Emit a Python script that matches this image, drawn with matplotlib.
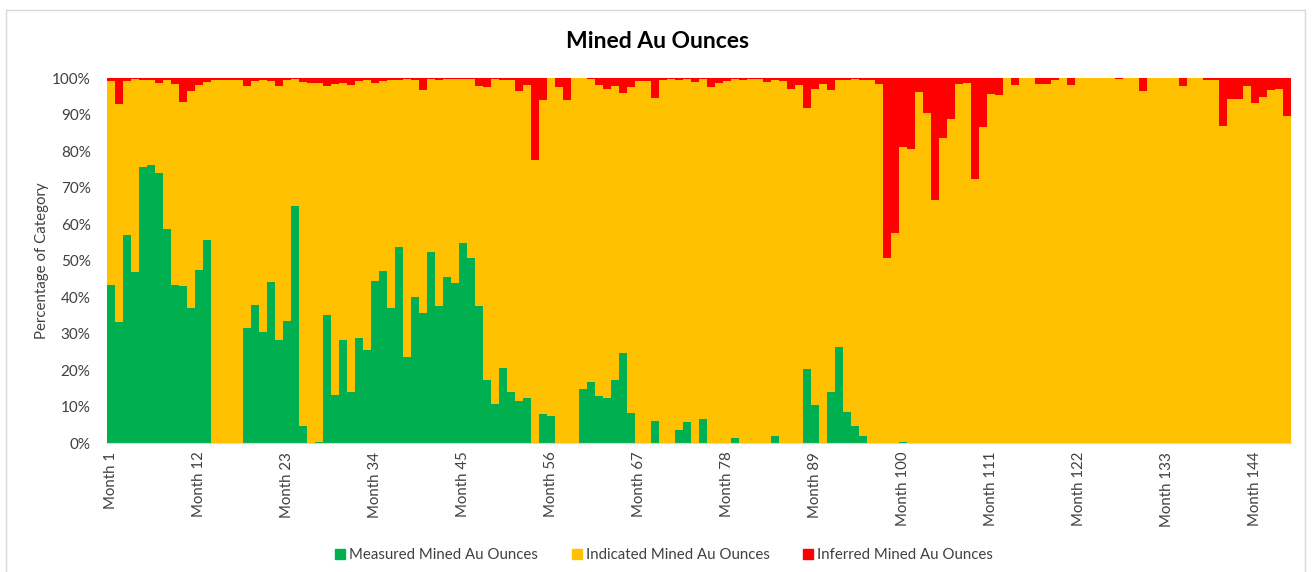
import numpy as np
import matplotlib
matplotlib.use("Agg")
import matplotlib.pyplot as plt
from matplotlib.lines import Line2D

plt.rcParams['font.family'] = ['Lato', 'DejaVu Sans']

months = [f"Month {i}" for i in range(1, 149)]

measured = [
    43.4, 33.2, 57.0, 46.9, 75.6, 76.2, 74.0, 58.8, 43.5, 43.1,
    37.1, 47.4, 55.6, 0, 0, 0, 0, 31.6, 37.8, 30.6,
    44.3, 28.3, 33.5, 65.1, 4.8, 0, 0.3, 35.1, 13.3, 28.2,
    14.0, 28.8, 25.6, 44.4, 47.2, 37.2, 53.9, 23.6, 40.2, 35.8,
    52.4, 37.5, 45.6, 43.8, 55.0, 50.8, 37.7, 17.3, 10.9, 20.6,
    14.1, 11.6, 12.5, 0, 8.0, 7.4, 0, 0, 0, 14.8,
    16.7, 13.0, 12.5, 17.4, 24.8, 8.3, 0, 0, 6.2, 0,
    0, 3.7, 5.7, 0, 6.6, 0, 0, 0, 1.5, 0,
    0, 0, 0, 2.0, 0, 0, 0, 20.3, 10.4, 0,
    14.1, 26.3, 8.6, 4.8, 2.0, 0, 0, 0, 0, 0.3,
    0, 0, 0, 0, 0, 0, 0, 0, 0, 0,
    0, 0, 0, 0, 0, 0, 0, 0, 0, 0,
    0, 0, 0, 0, 0, 0, 0, 0, 0, 0,
    0, 0, 0, 0, 0, 0, 0, 0, 0, 0,
    0, 0, 0, 0, 0, 0, 0, 0,
]

inferred = [
    0.8, 7.0, 0.8, 0.3, 0.6, 0.6, 1.4, 0.6, 1.6, 6.4,
    3.4, 1.9, 1.0, 0.6, 0.4, 0.5, 0.6, 2.1, 0.8, 0.6,
    0.8, 2.1, 0.4, 0.3, 1.0, 1.2, 1.4, 2.2, 1.6, 1.2,
    1.8, 0.8, 0.6, 1.4, 0.8, 0.6, 0.4, 0.3, 0.4, 3.2,
    0.2, 0.4, 0.2, 0.2, 0.3, 0.2, 2.0, 2.3, 0.2, 0.4,
    0.4, 3.6, 1.8, 22.4, 5.9, 0.0, 2.5, 5.9, 0.0, 0.0,
    0.2, 1.8, 2.9, 2.0, 4.1, 2.5, 0.8, 0.8, 5.4, 0.6,
    0.2, 0.4, 0.2, 1.1, 0.2, 2.5, 1.4, 0.8, 0.2, 0.4,
    0.2, 0.2, 1.1, 0.6, 0.8, 2.9, 1.8, 8.2, 2.9, 1.6,
    3.2, 0.4, 0.4, 0.2, 0.6, 0.5, 1.6, 49.1, 42.5, 18.7,
    19.3, 3.7, 9.6, 33.3, 16.4, 11.1, 1.6, 1.2, 27.7, 13.4,
    4.3, 4.5, 0.0, 1.7, 0.0, 0.0, 1.6, 1.6, 0.5, 0.0,
    1.9, 0.0, 0.0, 0.0, 0.0, 0.0, 0.2, 0.0, 0.0, 3.4,
    0.0, 0.0, 0.0, 0.0, 2.1, 0.0, 0.0, 0.4, 0.5, 13.0,
    5.8, 5.7, 2.2, 6.7, 5.0, 3.1, 2.9, 10.2,
]

measured_arr = np.array(measured, dtype=float)
inferred_arr = np.array(inferred, dtype=float)
indicated_arr = 100.0 - measured_arr - inferred_arr

series_names = ["Measured Mined Au Ounces", "Indicated Mined Au Ounces", "Inferred Mined Au Ounces"]
colors = ["#00B050", "#FFC000", "#FF0000"]

W, H = 1316, 572
fig = plt.figure(figsize=(W / 100, H / 100), dpi=100)
ax = fig.add_axes([107.3 / W, 1 - 443.3 / H, (1290.7 - 107.3) / W, (443.3 - 78.3) / H])

x = np.arange(len(months))
bottom = np.zeros(len(months))
for vals, c in zip([measured_arr, indicated_arr, inferred_arr], colors):
    ax.bar(x, vals, width=1.0, bottom=bottom, color=c, linewidth=0, antialiased=False)
    bottom = bottom + vals

ax.set_xlim(-0.5, len(months) - 0.5)
ax.set_ylim(0, 100)
ax.set_yticks(np.arange(0, 101, 10))
ax.set_yticklabels([f"{v}%" for v in range(0, 101, 10)], fontsize=11, color="#404040")
tick_idx = list(range(0, len(months), 11))
ax.set_xticks(tick_idx)
ax.set_xticklabels([months[i] for i in tick_idx], rotation=90, fontsize=10.8, color="#404040")
ax.tick_params(axis="both", length=0)
ax.tick_params(axis="y", pad=12)
ax.tick_params(axis="x", pad=6)
for s in ["top", "right", "left"]:
    ax.spines[s].set_visible(False)
ax.spines["bottom"].set_color("#D9D9D9")
ax.set_ylabel("Percentage of Category", fontsize=10.8, color="#404040")
ax.yaxis.set_label_coords((49 - 107.3) / (1290.7 - 107.3), 0.5)

fig.text(658 / W, 1 - 42 / H, "Mined Au Ounces", ha="center", va="center",
         fontsize=16.5, fontweight="bold", color="black")

handles = [Line2D([], [], marker="s", linestyle="none", markersize=6.5, markerfacecolor=c,
                  markeredgecolor=c) for c in colors]
fig.legend(handles, series_names, loc="center", bbox_to_anchor=(662 / W, 1 - 555 / H),
           ncol=3, frameon=False, fontsize=10.8, handletextpad=0.0, columnspacing=2.0,
           handlelength=1.2, labelcolor="#404040")

# outer chart border
border_color = "#D9D9D9"
fig.add_artist(Line2D([6 / W, 6 / W], [0, 1 - 10 / H], color=border_color, lw=1, transform=fig.transFigure))
fig.add_artist(Line2D([1305 / W, 1305 / W], [0, 1 - 10 / H], color=border_color, lw=1, transform=fig.transFigure))
fig.add_artist(Line2D([6 / W, 1305 / W], [1 - 10 / H, 1 - 10 / H], color=border_color, lw=1, transform=fig.transFigure))

fig.savefig("out.png", dpi=100)
